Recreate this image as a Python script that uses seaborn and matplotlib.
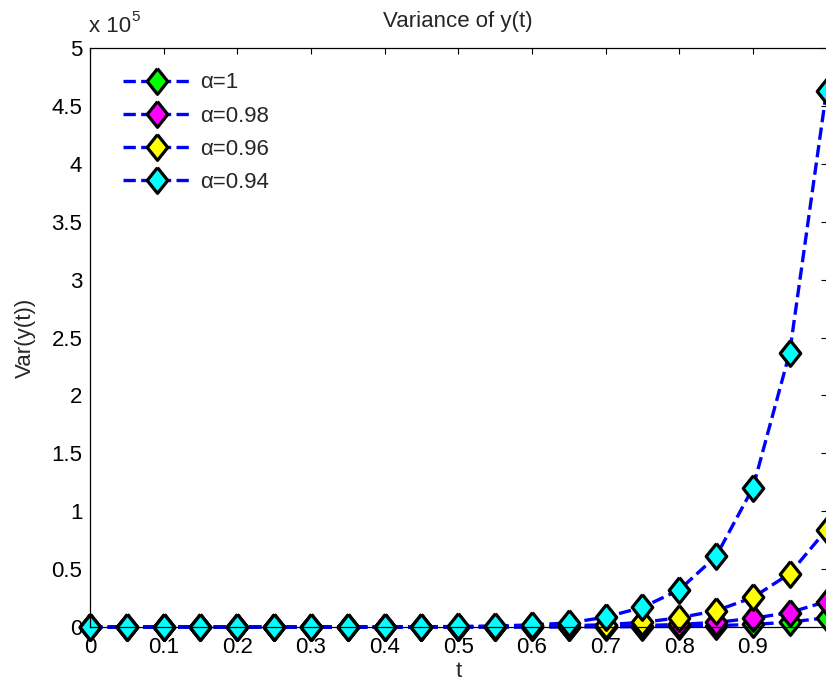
import numpy as np
import pandas as pd
import matplotlib
matplotlib.use("Agg")
import matplotlib.pyplot as plt
import seaborn as sns

# Time grid
t = [0.00, 0.05, 0.10, 0.15, 0.20, 0.25, 0.30, 0.35, 0.40, 0.45, 0.50,
     0.55, 0.60, 0.65, 0.70, 0.75, 0.80, 0.85, 0.90, 0.95, 1.00]

# Var(y(t)) for each fractional order alpha
var_a100 = [0, 0, 0, 0, 0, 0, 1, 2, 3, 6, 12,
            24, 45, 90, 170, 320, 600, 1200, 2200, 4200, 8000]
var_a098 = [0, 0, 0, 0, 1, 2, 4, 8, 16, 30, 55,
            100, 190, 350, 650, 1200, 2200, 4000, 7500, 12500, 22000]
var_a096 = [0, 0, 0, 1, 2, 4, 9, 18, 35, 70, 140,
            280, 550, 1000, 2000, 4000, 8000, 14000, 25500, 46000, 84000]
var_a094 = [0, 0, 1, 3, 7, 14, 28, 56, 110, 220, 450,
            900, 1800, 3500, 8500, 17000, 32000, 61000, 120000, 237000, 463000]

series_labels = ["α=1", "α=0.98", "α=0.96", "α=0.94"]
face_colors = ["#00ff00", "#ff00ff", "#ffff00", "#00ffff"]

y_ticks = [0, 0.5e5, 1e5, 1.5e5, 2e5, 2.5e5, 3e5, 3.5e5, 4e5, 4.5e5, 5e5]
y_tick_labels = ["0", "0.5", "1", "1.5", "2", "2.5", "3", "3.5", "4", "4.5", "5"]
x_ticks = [0, 0.1, 0.2, 0.3, 0.4, 0.5, 0.6, 0.7, 0.8, 0.9, 1.0]
x_tick_labels = ["0", "0.1", "0.2", "0.3", "0.4", "0.5", "0.6", "0.7", "0.8", "0.9", ""]

sns.set_style("white")
plt.rcParams["font.family"] = ["Liberation Sans", "DejaVu Sans"]

FS = 16
W, H = 826, 682
fig = plt.figure(figsize=(W / 100, H / 100), dpi=100)
ax = fig.add_axes([90 / W, 55 / H, 736.5 / W, 579 / H])

df = pd.DataFrame({"t": t, "a100": var_a100, "a098": var_a098,
                   "a096": var_a096, "a094": var_a094})

# Diamond marker, slightly taller than wide
diamond = [(0, 1), (0.8, 0), (0, -1), (-0.8, 0), (0, 1)]

for col, lab, fc in zip(["a100", "a098", "a096", "a094"], series_labels, face_colors):
    sns.lineplot(data=df, x="t", y=col, ax=ax, label=lab,
                 color="#0000ff", linestyle="--", linewidth=2.4,
                 marker=diamond, markersize=18.5, markerfacecolor=fc,
                 markeredgecolor="black", markeredgewidth=2.3,
                 clip_on=False, estimator=None, sort=False)

ax.set_xlim(0, 1)
ax.set_ylim(0, 5e5)
ax.set_xticks(x_ticks)
ax.set_xticklabels(x_tick_labels)
ax.set_yticks(y_ticks)
ax.set_yticklabels(y_tick_labels)

ax.tick_params(axis="both", direction="in", length=4.5, width=0.8,
               labelsize=FS, colors="black", top=True, right=True)
ax.tick_params(axis="x", pad=7)
ax.tick_params(axis="y", pad=5.5)

for s in ax.spines.values():
    s.set_visible(True)
    s.set_color("black")
    s.set_linewidth(0.9)

ax.set_title("Variance of y(t)", fontsize=FS, pad=15)
ax.set_xlabel("t", fontsize=FS)
ax.set_ylabel("Var(y(t))", fontsize=FS)
ax.xaxis.set_label_coords(0.5, -0.0595)
ax.yaxis.set_label_coords(-0.074, 0.5)

# Exponent of the y axis
fig.text(89 / W, 1 - 27 / H, "x 10", fontsize=FS, va="center", ha="left")
fig.text(131.5 / W, 1 - 17 / H, "5", fontsize=11, va="center", ha="left")

leg = ax.legend(loc="upper left", bbox_to_anchor=((123 - 90) / 736.5, 0.958),
                frameon=False, fontsize=FS, handlelength=3.1, handletextpad=0.36,
                labelspacing=0.55, borderpad=0, borderaxespad=0, numpoints=1)

fig.savefig("out.png", dpi=100)
